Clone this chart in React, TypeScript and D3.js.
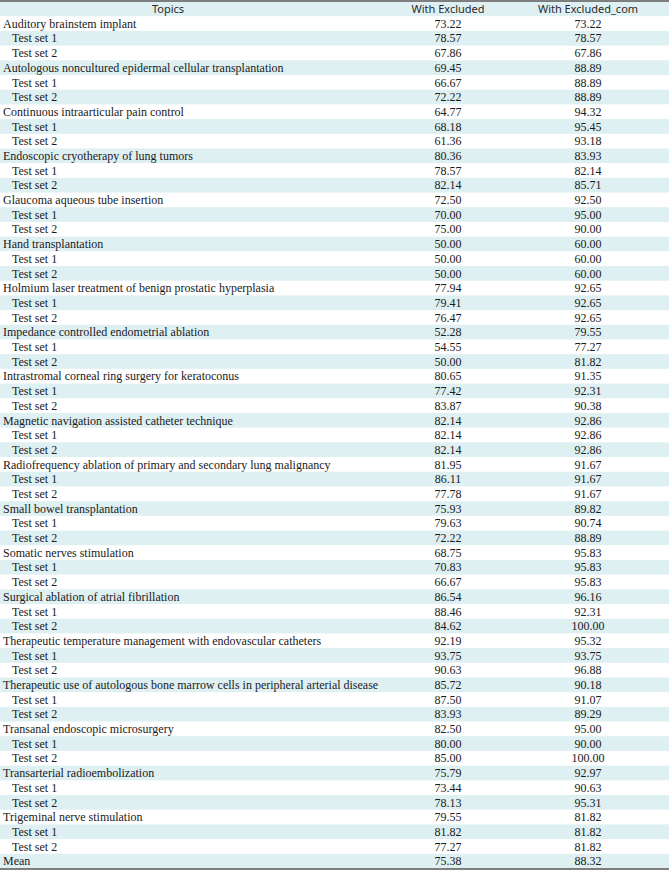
import React from "react";
import * as d3 from "d3";

const headers = ["Topics", "With Excluded", "With Excluded_com"];
const topics = [
  "Auditory brainstem implant",
  "Autologous noncultured epidermal cellular transplantation",
  "Continuous intraarticular pain control",
  "Endoscopic cryotherapy of lung tumors",
  "Glaucoma aqueous tube insertion",
  "Hand transplantation",
  "Holmium laser treatment of benign prostatic hyperplasia",
  "Impedance controlled endometrial ablation",
  "Intrastromal corneal ring surgery for keratoconus",
  "Magnetic navigation assisted catheter technique",
  "Radiofrequency ablation of primary and secondary lung malignancy",
  "Small bowel transplantation",
  "Somatic nerves stimulation",
  "Surgical ablation of atrial fibrillation",
  "Therapeutic temperature management with endovascular catheters",
  "Therapeutic use of autologous bone marrow cells in peripheral arterial disease",
  "Transanal endoscopic microsurgery",
  "Transarterial radioembolization",
  "Trigeminal nerve stimulation",
];
const subLabels = ["Test set 1", "Test set 2"];
const topicExcluded = [73.22, 69.45, 64.77, 80.36, 72.5, 50.0, 77.94, 52.28, 80.65, 82.14, 81.95, 75.93, 68.75, 86.54, 92.19, 85.72, 82.5, 75.79, 79.55];
const topicExcludedCom = [73.22, 88.89, 94.32, 83.93, 92.5, 60.0, 92.65, 79.55, 91.35, 92.86, 91.67, 89.82, 95.83, 96.16, 95.32, 90.18, 95.0, 92.97, 81.82];
const set1Excluded = [78.57, 66.67, 68.18, 78.57, 70.0, 50.0, 79.41, 54.55, 77.42, 82.14, 86.11, 79.63, 70.83, 88.46, 93.75, 87.5, 80.0, 73.44, 81.82];
const set1ExcludedCom = [78.57, 88.89, 95.45, 82.14, 95.0, 60.0, 92.65, 77.27, 92.31, 92.86, 91.67, 90.74, 95.83, 92.31, 93.75, 91.07, 90.0, 90.63, 81.82];
const set2Excluded = [67.86, 72.22, 61.36, 82.14, 75.0, 50.0, 76.47, 50.0, 83.87, 82.14, 77.78, 72.22, 66.67, 84.62, 90.63, 83.93, 85.0, 78.13, 77.27];
const set2ExcludedCom = [67.86, 88.89, 93.18, 85.71, 90.0, 60.0, 92.65, 81.82, 90.38, 92.86, 91.67, 88.89, 95.83, 100.0, 96.88, 89.29, 100.0, 95.31, 81.82];
const meanLabel = "Mean";
const meanExcluded = 75.38;
const meanExcludedCom = 88.32;

type Row = { label: string; indent: boolean; a: number; b: number };

const rows: Row[] = [];
topics.forEach((t, i) => {
  rows.push({ label: t, indent: false, a: topicExcluded[i], b: topicExcludedCom[i] });
  rows.push({ label: subLabels[0], indent: true, a: set1Excluded[i], b: set1ExcludedCom[i] });
  rows.push({ label: subLabels[1], indent: true, a: set2Excluded[i], b: set2ExcludedCom[i] });
});
rows.push({ label: meanLabel, indent: false, a: meanExcluded, b: meanExcludedCom });

const W = 669;
const H = 871;
const fmt = d3.format(".2f");
const BLUE = "#dff0f3";

export default function App() {
  const y = d3
    .scaleBand<number>()
    .domain(d3.range(rows.length + 1))
    .range([1.5, 868.5])
    .padding(0);
  const bw = y.bandwidth();
  const colCenters = [168, 448, 588];
  return (
    <svg
      width={W}
      height={H}
      style={{ position: "absolute", left: 0, top: 0, background: "#fff" }}
    >
      {/* header */}
      <rect x={0} y={y(0)} width={W} height={bw} fill={BLUE} />
      {headers.map((h, i) => (
        <text
          key={h}
          x={colCenters[i]}
          y={(y(0) as number) + bw / 2}
          dy="0.35em"
          textAnchor="middle"
          fontFamily="'Noto Sans', sans-serif"
          fontSize={11}
          fill="#2a2a2a"
        >
          {h}
        </text>
      ))}
      {rows.map((r, i) => {
        const yy = y(i + 1) as number;
        const blue = i % 2 === 1;
        return (
          <g key={i}>
            {blue && <rect x={0} y={yy} width={W} height={bw} fill={BLUE} />}
            <text
              x={r.indent ? 12 : 3}
              y={yy + bw / 2}
              dy="0.35em"
              fontFamily="'Liberation Serif', serif"
              fontSize={12}
              fill="#1a1a1a"
            >
              {r.label}
            </text>
            <text
              x={colCenters[1]}
              y={yy + bw / 2}
              dy="0.35em"
              textAnchor="middle"
              fontFamily="'Liberation Serif', serif"
              fontSize={12}
              fill="#1a1a1a"
            >
              {fmt(r.a)}
            </text>
            <text
              x={colCenters[2]}
              y={yy + bw / 2}
              dy="0.35em"
              textAnchor="middle"
              fontFamily="'Liberation Serif', serif"
              fontSize={12}
              fill="#1a1a1a"
            >
              {fmt(r.b)}
            </text>
          </g>
        );
      })}
      <line x1={0} x2={W} y1={1} y2={1} stroke="#555" strokeWidth={1.5} />
      <line x1={0} x2={W} y1={869} y2={869} stroke="#555" strokeWidth={1.5} />
    </svg>
  );
}
